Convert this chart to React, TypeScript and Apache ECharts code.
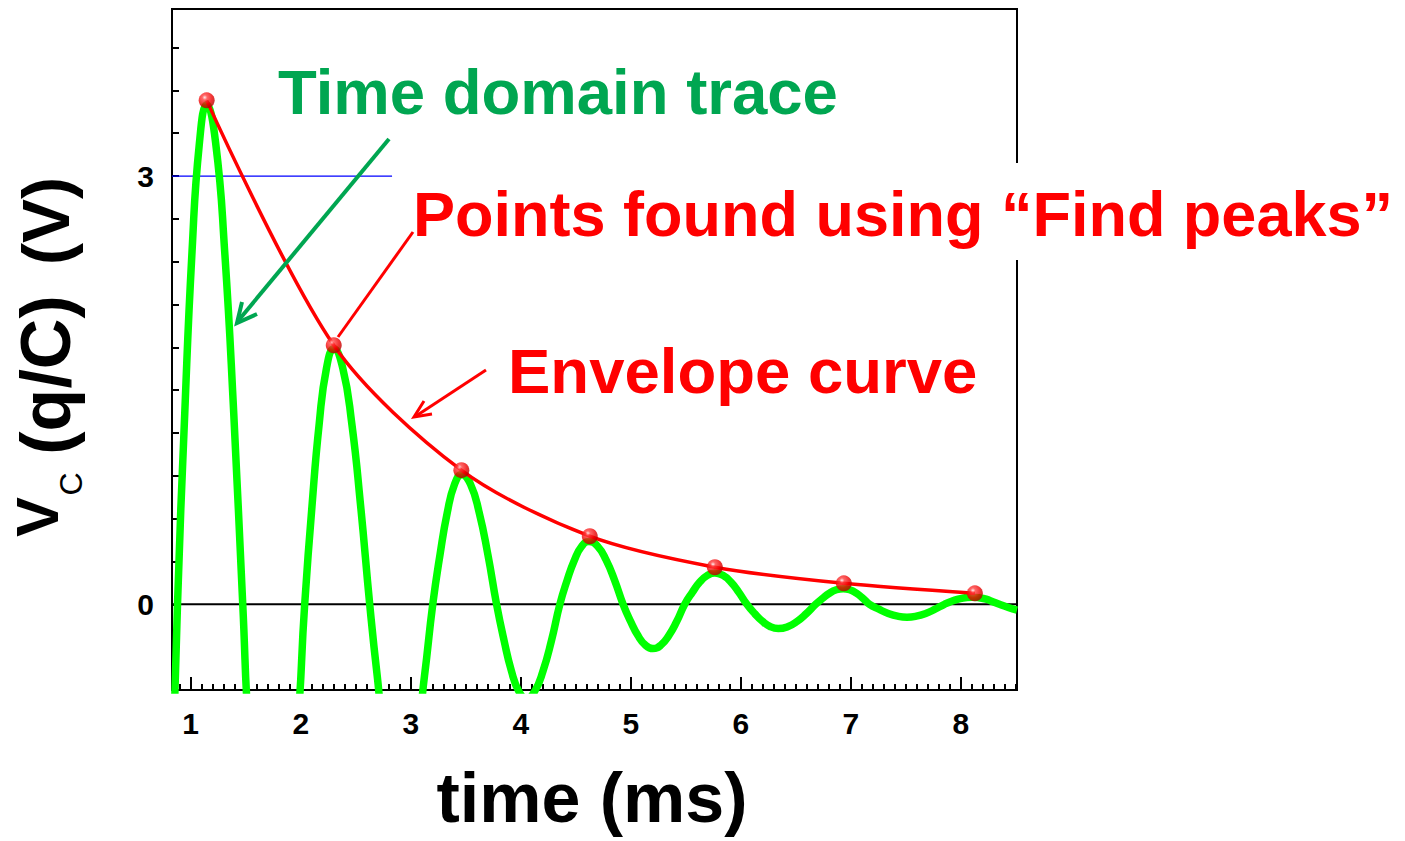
import React, { useEffect, useRef } from "react";
import * as echarts from "echarts";

// ---- data ----
const traceTime = [0.8, 0.88, 0.946, 1.012, 1.079, 1.145, 1.227, 1.309, 1.391, 1.473, 1.535, 1.72, 1.957, 2.036, 2.102, 2.168, 2.234, 2.3, 2.382, 2.464, 2.545, 2.627, 2.695, 2.764, 2.9, 3.05, 3.125, 3.2, 3.266, 3.332, 3.398, 3.464, 3.543, 3.622, 3.701, 3.78, 3.848, 3.915, 3.983, 4.05, 4.126, 4.202, 4.279, 4.355, 4.421, 4.488, 4.554, 4.62, 4.698, 4.775, 4.853, 4.93, 4.998, 5.065, 5.133, 5.2, 5.273, 5.345, 5.418, 5.49, 5.559, 5.627, 5.696, 5.764, 5.837, 5.91, 5.982, 6.055, 6.126, 6.198, 6.269, 6.34, 6.425, 6.51, 6.595, 6.68, 6.743, 6.805, 6.868, 6.93, 6.99, 7.05, 7.11, 7.17, 7.255, 7.34, 7.425, 7.51, 7.595, 7.68, 7.765, 7.85, 7.91, 7.975, 8.04, 8.1, 8.165, 8.23, 8.29, 8.35, 8.43, 8.51];
const traceVolt = [-2.1, 0, 1.34, 2.47, 3.23, 3.5, 3.23, 2.47, 1.34, 0, -0.96, -2.5, -0.96, 0, 0.685, 1.266, 1.654, 1.79, 1.654, 1.266, 0.685, 0, -0.5, -0.92, -1.3, -0.92, -0.5, 0, 0.348, 0.643, 0.841, 0.91, 0.841, 0.643, 0.348, 0, -0.253, -0.467, -0.61, -0.66, -0.61, -0.467, -0.253, 0, 0.168, 0.311, 0.407, 0.44, 0.407, 0.311, 0.168, 0, -0.119, -0.219, -0.286, -0.31, -0.286, -0.219, -0.119, 0, 0.084, 0.156, 0.203, 0.22, 0.203, 0.156, 0.084, 0, -0.065, -0.12, -0.157, -0.17, -0.157, -0.12, -0.065, 0, 0.042, 0.078, 0.102, 0.11, 0.102, 0.078, 0.042, 0, -0.034, -0.064, -0.083, -0.09, -0.083, -0.064, -0.034, 0, 0.02, 0.036, 0.046, 0.05, 0.046, 0.036, 0.018, 0, -0.022, -0.04];

const peakTime = [1.145, 2.3, 3.46, 4.627, 5.764, 6.936, 8.127];
const peakVolt = [3.53, 1.815, 0.94, 0.477, 0.26, 0.147, 0.077];

// envelope curve: smooth curve through the found peaks
const envTime = [1.145, 2.3, 3.46, 4.627, 5.764, 6.936, 8.127];
const envVolt = [3.53, 1.815, 0.94, 0.477, 0.26, 0.147, 0.077];

const refTime = [0.83, 2.83];
const refVolt = [3, 3];
const zeroTime = [0.83, 8.51];
const zeroVolt = [0, 0];

const xRange = [0.83, 8.51];
const yRange = [-0.6, 4.17];
const yTickStep = 0.3;
const yLabelValues = [0, 3];

const xTitle = "time (ms)";
const yTitleMain = "V";
const yTitleSub = "C";
const yTitleA = "(q/C)";
const yTitleB = "(V)";
const noteTrace = "Time domain trace";
const notePeaks = "Points found using \u201CFind peaks\u201D";
const noteEnvelope = "Envelope curve";

const FONT = '"Liberation Sans", Arial, Helvetica, sans-serif';
const GREEN_NOTE = "#00a651";

const zip = (a: number[], b: number[]) => a.map((v, i) => [v, b[i]]);

export default function App() {
  const ref = useRef<HTMLDivElement>(null);

  useEffect(() => {
    if (!ref.current) return;
    const chart = echarts.init(ref.current, null, { renderer: "svg" });

    const markerColor = new echarts.graphic.RadialGradient(0.38, 0.32, 0.7, [
      { offset: 0, color: "#ffe6e6" },
      { offset: 0.22, color: "#ff4040" },
      { offset: 0.65, color: "#ee0000" },
      { offset: 1, color: "#b00000" },
    ]);

    const option: any = {
      animation: false,
      backgroundColor: "#ffffff",
      grid: {
        left: 172,
        top: 9,
        width: 845,
        height: 681,
        show: true,
        borderColor: "#000",
        borderWidth: 2,
        backgroundColor: "transparent",
      },
      xAxis: {
        type: "value",
        min: xRange[0],
        max: xRange[1],
        splitNumber: 8,
        minInterval: 1,
        maxInterval: 1,
        axisLine: { onZero: false, lineStyle: { color: "#000", width: 2 } },
        axisTick: { inside: true, length: 13, lineStyle: { color: "#000", width: 2 } },
        minorTick: { show: true, splitNumber: 10, length: 6, lineStyle: { color: "#000", width: 2 } },
        axisLabel: {
          margin: 18,
          fontFamily: FONT,
          fontWeight: "bold",
          fontSize: 30,
          color: "#000",
          showMinLabel: false,
          showMaxLabel: false,
          formatter: (v: number) => (Math.abs(v - Math.round(v)) < 1e-6 ? String(Math.round(v)) : ""),
        },
        splitLine: { show: false },
        minorSplitLine: { show: false },
      },
      yAxis: {
        type: "value",
        min: yRange[0],
        max: yRange[1],
        interval: yTickStep,
        axisLine: { onZero: false, lineStyle: { color: "#000", width: 2 } },
        axisTick: { inside: true, length: 7, lineStyle: { color: "#000", width: 2 } },
        axisLabel: {
          margin: 18,
          fontFamily: FONT,
          fontWeight: "bold",
          fontSize: 30,
          color: "#000",
          showMinLabel: false,
          showMaxLabel: false,
          formatter: (v: number) => {
            const hit = yLabelValues.find((t) => Math.abs(v - t) < 1e-6);
            return hit === undefined ? "" : String(hit);
          },
        },
        splitLine: { show: false },
      },
      series: [
        {
          type: "line",
          data: zip(zeroTime, zeroVolt),
          symbol: "none",
          silent: true,
          z: 1,
          lineStyle: { color: "#000", width: 2 },
        },
        {
          type: "line",
          data: zip(refTime, refVolt),
          symbol: "none",
          silent: true,
          z: 1,
          lineStyle: { color: "#0000ff", width: 1.3 },
        },
        {
          type: "line",
          data: zip(traceTime, traceVolt),
          symbol: "none",
          smooth: true,
          clip: true,
          z: 2,
          lineStyle: { color: "#00ff00", width: 7.5 },
        },
        {
          type: "line",
          data: zip(envTime, envVolt),
          symbol: "none",
          smooth: 0.3,
          z: 3,
          lineStyle: { color: "#ff0000", width: 3.5 },
        },
        {
          type: "scatter",
          data: zip(peakTime, peakVolt),
          symbol: "circle",
          symbolSize: 16,
          z: 4,
          itemStyle: { color: markerColor },
        },
      ],
      graphic: [
        {
          type: "rect",
          z: 100,
          shape: { x: 1008, y: 163, width: 22, height: 97 },
          style: { fill: "#fff" },
        },
        {
          type: "text",
          z: 101,
          x: 278,
          y: 92,
          style: { text: noteTrace, fill: GREEN_NOTE, fontFamily: FONT, fontWeight: "bold", fontSize: 63.5, align: "left", verticalAlign: "middle" },
        },
        {
          type: "text",
          z: 101,
          x: 413,
          y: 214,
          style: { text: notePeaks, fill: "#ff0000", fontFamily: FONT, fontWeight: "bold", fontSize: 63, align: "left", verticalAlign: "middle" },
        },
        {
          type: "text",
          z: 101,
          x: 508,
          y: 371,
          style: { text: noteEnvelope, fill: "#ff0000", fontFamily: FONT, fontWeight: "bold", fontSize: 63.5, align: "left", verticalAlign: "middle" },
        },
        {
          type: "line",
          z: 101,
          shape: { x1: 389, y1: 139, x2: 238, y2: 321 },
          style: { stroke: GREEN_NOTE, lineWidth: 4 },
        },
        {
          type: "polyline",
          z: 101,
          shape: { points: [[242, 302], [237, 323], [257, 314]] },
          style: { stroke: GREEN_NOTE, lineWidth: 4, fill: "none" },
        },
        {
          type: "line",
          z: 101,
          shape: { x1: 413, y1: 232, x2: 338, y2: 337 },
          style: { stroke: "#ff0000", lineWidth: 3 },
        },
        {
          type: "line",
          z: 101,
          shape: { x1: 486, y1: 370, x2: 416, y2: 416 },
          style: { stroke: "#ff0000", lineWidth: 3 },
        },
        {
          type: "polyline",
          z: 101,
          shape: { points: [[424, 401], [414, 417], [432, 414]] },
          style: { stroke: "#ff0000", lineWidth: 3, fill: "none" },
        },
        {
          type: "text",
          z: 101,
          x: 592,
          y: 798,
          style: { text: xTitle, fill: "#000", fontFamily: FONT, fontWeight: "bold", fontSize: 70, align: "center", verticalAlign: "middle" },
        },
        {
          type: "text",
          z: 101,
          x: 37,
          y: 517,
          rotation: Math.PI / 2,
          style: { text: yTitleMain, fill: "#000", fontFamily: FONT, fontWeight: "bold", fontSize: 60, align: "center", verticalAlign: "middle" },
        },
        {
          type: "text",
          z: 101,
          x: 71,
          y: 484,
          rotation: Math.PI / 2,
          style: { text: yTitleSub, fill: "#000", fontFamily: FONT, fontWeight: "normal", fontSize: 32, align: "center", verticalAlign: "middle" },
        },
        {
          type: "text",
          z: 101,
          x: 46,
          y: 375,
          rotation: Math.PI / 2,
          style: { text: yTitleA, fill: "#000", fontFamily: FONT, fontWeight: "bold", fontSize: 70, align: "center", verticalAlign: "middle" },
        },
        {
          type: "text",
          z: 101,
          x: 46,
          y: 221,
          rotation: Math.PI / 2,
          style: { text: yTitleB, fill: "#000", fontFamily: FONT, fontWeight: "bold", fontSize: 66, align: "center", verticalAlign: "middle" },
        },
      ],
    };

    chart.setOption(option);
    return () => chart.dispose();
  }, []);

  return (
    <div
      ref={ref}
      style={{ position: "fixed", left: 0, top: 0, width: 1405, height: 841, background: "#fff" }}
    />
  );
}
